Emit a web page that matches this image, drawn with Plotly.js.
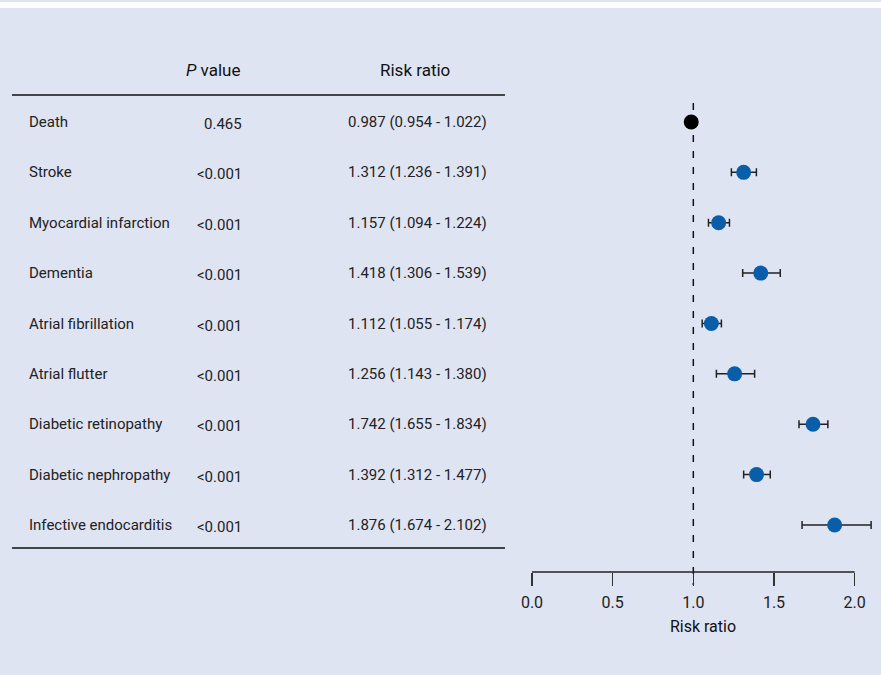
<!DOCTYPE html>
<html><head><meta charset="utf-8">
<script src="https://cdn.plot.ly/plotly-3.0.1.min.js"></script>
<style>html,body{margin:0;padding:0;background:#dfe4f3;}</style>
</head><body>
<div id="chart" style="width:881px;height:675px;"></div>
<script>
const outcomes = ["Death","Stroke","Myocardial infarction","Dementia","Atrial fibrillation","Atrial flutter","Diabetic retinopathy","Diabetic nephropathy","Infective endocarditis"];
const pValues = ["0.465","<0.001","<0.001","<0.001","<0.001","<0.001","<0.001","<0.001","<0.001"];
const riskRatio = [0.987,1.312,1.157,1.418,1.112,1.256,1.742,1.392,1.876];
const ciLow = [0.954,1.236,1.094,1.306,1.055,1.143,1.655,1.312,1.674];
const ciHigh = [1.022,1.391,1.224,1.539,1.174,1.380,1.834,1.477,2.102];
const xTicks = [0,0.5,1,1.5,2];
const xTickLabels = ["0.0","0.5","1.0","1.5","2.0"];

const W = 874; // paper width in px (margin l=0, r=7)
const px = v => v / W;
const FONT = "'Roboto', sans-serif";
const txt = "#222";

const rrLabels = riskRatio.map((r,i)=> r.toFixed(3)+" ("+ciLow[i].toFixed(3)+" - "+ciHigh[i].toFixed(3)+")");
const markerColors = outcomes.map((o,i)=> i===0 ? "#000000" : "#0a5ea9");

const trace = {
  type: "scatter", mode: "markers",
  x: riskRatio, y: outcomes,
  marker: {size: 15, color: markerColors},
  error_x: {type: "data", symmetric: false,
    array: ciHigh.map((h,i)=> h - riskRatio[i]),
    arrayminus: ciLow.map((l,i)=> riskRatio[i] - l),
    color: "#222", thickness: 1.5, width: 4},
  hoverinfo: "skip", showlegend: false
};

const annotations = [];
outcomes.forEach((o,i)=>{
  annotations.push({xref:"paper", yref:"y", x:px(27), y:o, text:o, showarrow:false, xanchor:"left", yanchor:"middle", font:{family:FONT,size:15,color:txt}});
  annotations.push({xref:"paper", yref:"y", x:px(244), y:o, text:pValues[i], showarrow:false, xanchor:"right", yanchor:"middle", yshift:-2, font:{family:FONT,size:15,color:txt}});
  annotations.push({xref:"paper", yref:"y", x:px(489), y:o, text:rrLabels[i], showarrow:false, xanchor:"right", yanchor:"middle", font:{family:FONT,size:15,color:txt}});
});
annotations.push({xref:"paper", yref:"paper", x:px(213), y:(572-70)/469, text:"<i>P</i> value", showarrow:false, xanchor:"center", yanchor:"middle", font:{family:FONT,size:17,color:"#111"}});
annotations.push({xref:"paper", yref:"paper", x:px(415), y:(572-70)/469, text:"Risk ratio", showarrow:false, xanchor:"center", yanchor:"middle", font:{family:FONT,size:17,color:"#111"}});

const shapes = [
  {type:"line", xref:"paper", yref:"paper", x0:px(12), x1:px(505), y0:(572-95)/469, y1:(572-95)/469, line:{color:"#111", width:1.5}},
  {type:"line", xref:"paper", yref:"paper", x0:px(12), x1:px(505), y0:(572-548)/469, y1:(572-548)/469, line:{color:"#111", width:1.5}},
  {type:"line", xref:"x", yref:"paper", x0:xTicks[0], x1:xTicks[xTicks.length-1], y0:0, y1:0, line:{color:"#222", width:1.5}},
  {type:"line", xref:"x", yref:"paper", x0:1, x1:1, y0:1, y1:-13/469, line:{color:"#111", width:1.5, dash:"7px,9px"}, layer:"below"}
];

const layout = {
  width: 881, height: 675,
  paper_bgcolor: "rgba(0,0,0,0)", plot_bgcolor: "rgba(0,0,0,0)",
  margin: {l:0, r:7, t:103, b:103},
  xaxis: {domain:[532/W, 1], range:[0, 2.12], showgrid:false, zeroline:false, showline:false,
    tickvals: xTicks, ticktext: xTickLabels, ticks:"outside", ticklen:13, tickwidth:1.5, tickcolor:"#333",
    ticklabelstandoff: 3,
    tickfont:{family:FONT, size:16, color:"#222"},
    title:{text:"Risk ratio", font:{family:FONT, size:16, color:"#111"}, standoff:9}},
  yaxis: {type:"category", categoryorder:"array", categoryarray: outcomes, range:[8.933, -0.377],
    showgrid:false, zeroline:false, showline:false, showticklabels:false, ticks:""},
  annotations, shapes
};

Plotly.newPlot("chart", [trace], layout, {displayModeBar:false, staticPlot:true});
</script>
<div style="position:absolute;left:0;top:0;width:881px;height:8px;pointer-events:none;">
<div style="height:2px;background:#dfe4f3"></div><div style="height:6px;background:#fff"></div></div>
</body></html>
